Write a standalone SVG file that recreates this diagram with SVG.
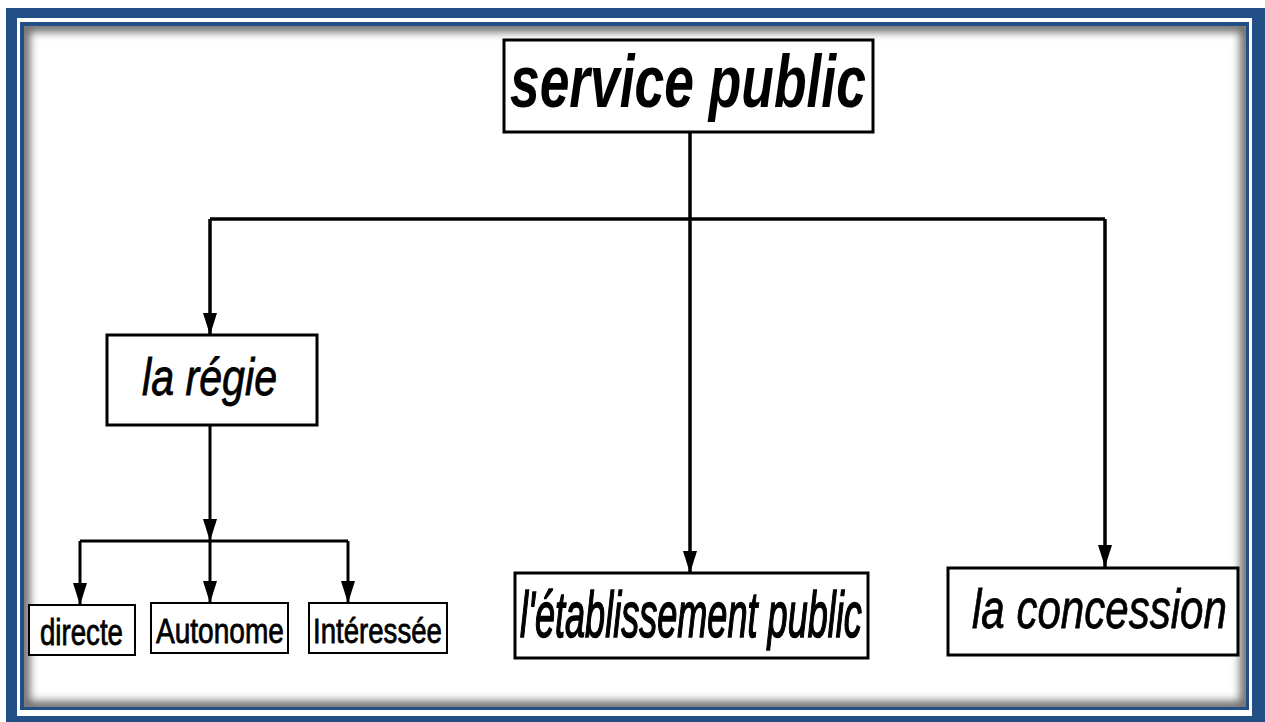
<svg xmlns="http://www.w3.org/2000/svg" width="1265" height="722" viewBox="0 0 1265 722">
  <defs>
    <style>
      .box { fill: #ffffff; stroke: #000000; stroke-width: 3; }
      .small { fill: #ffffff; stroke: #000000; stroke-width: 2; }
      .lbl { font-family: "Liberation Sans", Arial, sans-serif; fill: #000000; }
      .it { font-style: italic; }
      .heavy { stroke: #000000; stroke-width: 0.8; }
      .link { fill: none; stroke: #000000; stroke-width: 3.5; }
      .thin { fill: none; stroke: #000000; stroke-width: 3; }
    </style>
    <marker id="arrow" viewBox="0 0 22 14" refX="22" refY="7" markerWidth="22" markerHeight="14" markerUnits="userSpaceOnUse" orient="auto">
      <path d="M0,0 L22,7 L0,14 Z" fill="#000000"/>
    </marker>
    <clipPath id="innerClip">
      <rect x="24" y="26" width="1222" height="681"/>
    </clipPath>
    <filter id="soft" x="-5%" y="-5%" width="110%" height="110%">
      <feGaussianBlur stdDeviation="4"/>
    </filter>
  </defs>

  <!-- page background -->
  <rect x="0" y="0" width="1265" height="722" fill="#ffffff"/>

  <!-- double blue frame with inner shadow -->
  <g id="frame">
    <rect x="6" y="8" width="1270" height="720" fill="#224f86"/>
    <rect x="17" y="18" width="1235" height="698" fill="#ffffff"/>
    <rect x="20" y="22" width="1229" height="688" fill="#224f86"/>
    <rect x="24" y="26" width="1222" height="681" fill="#ffffff"/>
    <g clip-path="url(#innerClip)">
      <rect x="24" y="26" width="1222" height="681" fill="none" stroke="#6a6a6a" stroke-width="12" filter="url(#soft)"/>
    </g>
  </g>

  <!-- connectors -->
  <g id="connectors">
    <path class="link" d="M690,132 V219"/>
    <path class="link" d="M210,219 H1105"/>
    <path class="link" d="M210,219 V335" marker-end="url(#arrow)"/>
    <path class="link" d="M690,219 V573" marker-end="url(#arrow)"/>
    <path class="link" d="M1105,219 V567" marker-end="url(#arrow)"/>
    <path class="thin" d="M210,425 V541" marker-end="url(#arrow)"/>
    <path class="thin" d="M80,541 H348"/>
    <path class="thin" d="M80,541 V605" marker-end="url(#arrow)"/>
    <path class="thin" d="M210,541 V603" marker-end="url(#arrow)"/>
    <path class="thin" d="M348,541 V603" marker-end="url(#arrow)"/>
  </g>

  <g id="service-public">
    <rect class="box" x="504" y="40" width="369" height="92"/>
    <text class="lbl it" transform="translate(510,107) scale(0.721,1)" font-size="74" font-weight="bold">service public</text>
  </g>

  <g id="la-regie">
    <rect class="box" x="107" y="335" width="210" height="90"/>
    <text class="lbl it heavy" transform="translate(142,395) scale(0.792,1)" font-size="52">la régie</text>
  </g>

  <g id="directe">
    <rect class="small" x="29" y="605" width="106" height="50"/>
    <text class="lbl heavy" transform="translate(40,645) scale(0.768,1)" font-size="36">directe</text>
  </g>

  <g id="autonome">
    <rect class="small" x="151" y="603" width="137" height="50"/>
    <text class="lbl heavy" transform="translate(156,643) scale(0.78,1)" font-size="36">Autonome</text>
  </g>

  <g id="interessee">
    <rect class="small" x="309" y="603" width="138" height="50"/>
    <text class="lbl heavy" transform="translate(313,643) scale(0.767,1)" font-size="36">Intéressée</text>
  </g>

  <g id="etablissement-public">
    <rect class="box" x="515" y="573" width="353" height="85"/>
    <text class="lbl it" transform="translate(520,637) scale(0.564,1)" font-size="64" stroke="#000000" stroke-width="1.6">l'établissement public</text>
  </g>

  <g id="la-concession">
    <rect class="box" x="948" y="568" width="290" height="87"/>
    <text class="lbl it heavy" transform="translate(972,628) scale(0.765,1)" font-size="55">la concession</text>
  </g>
</svg>
